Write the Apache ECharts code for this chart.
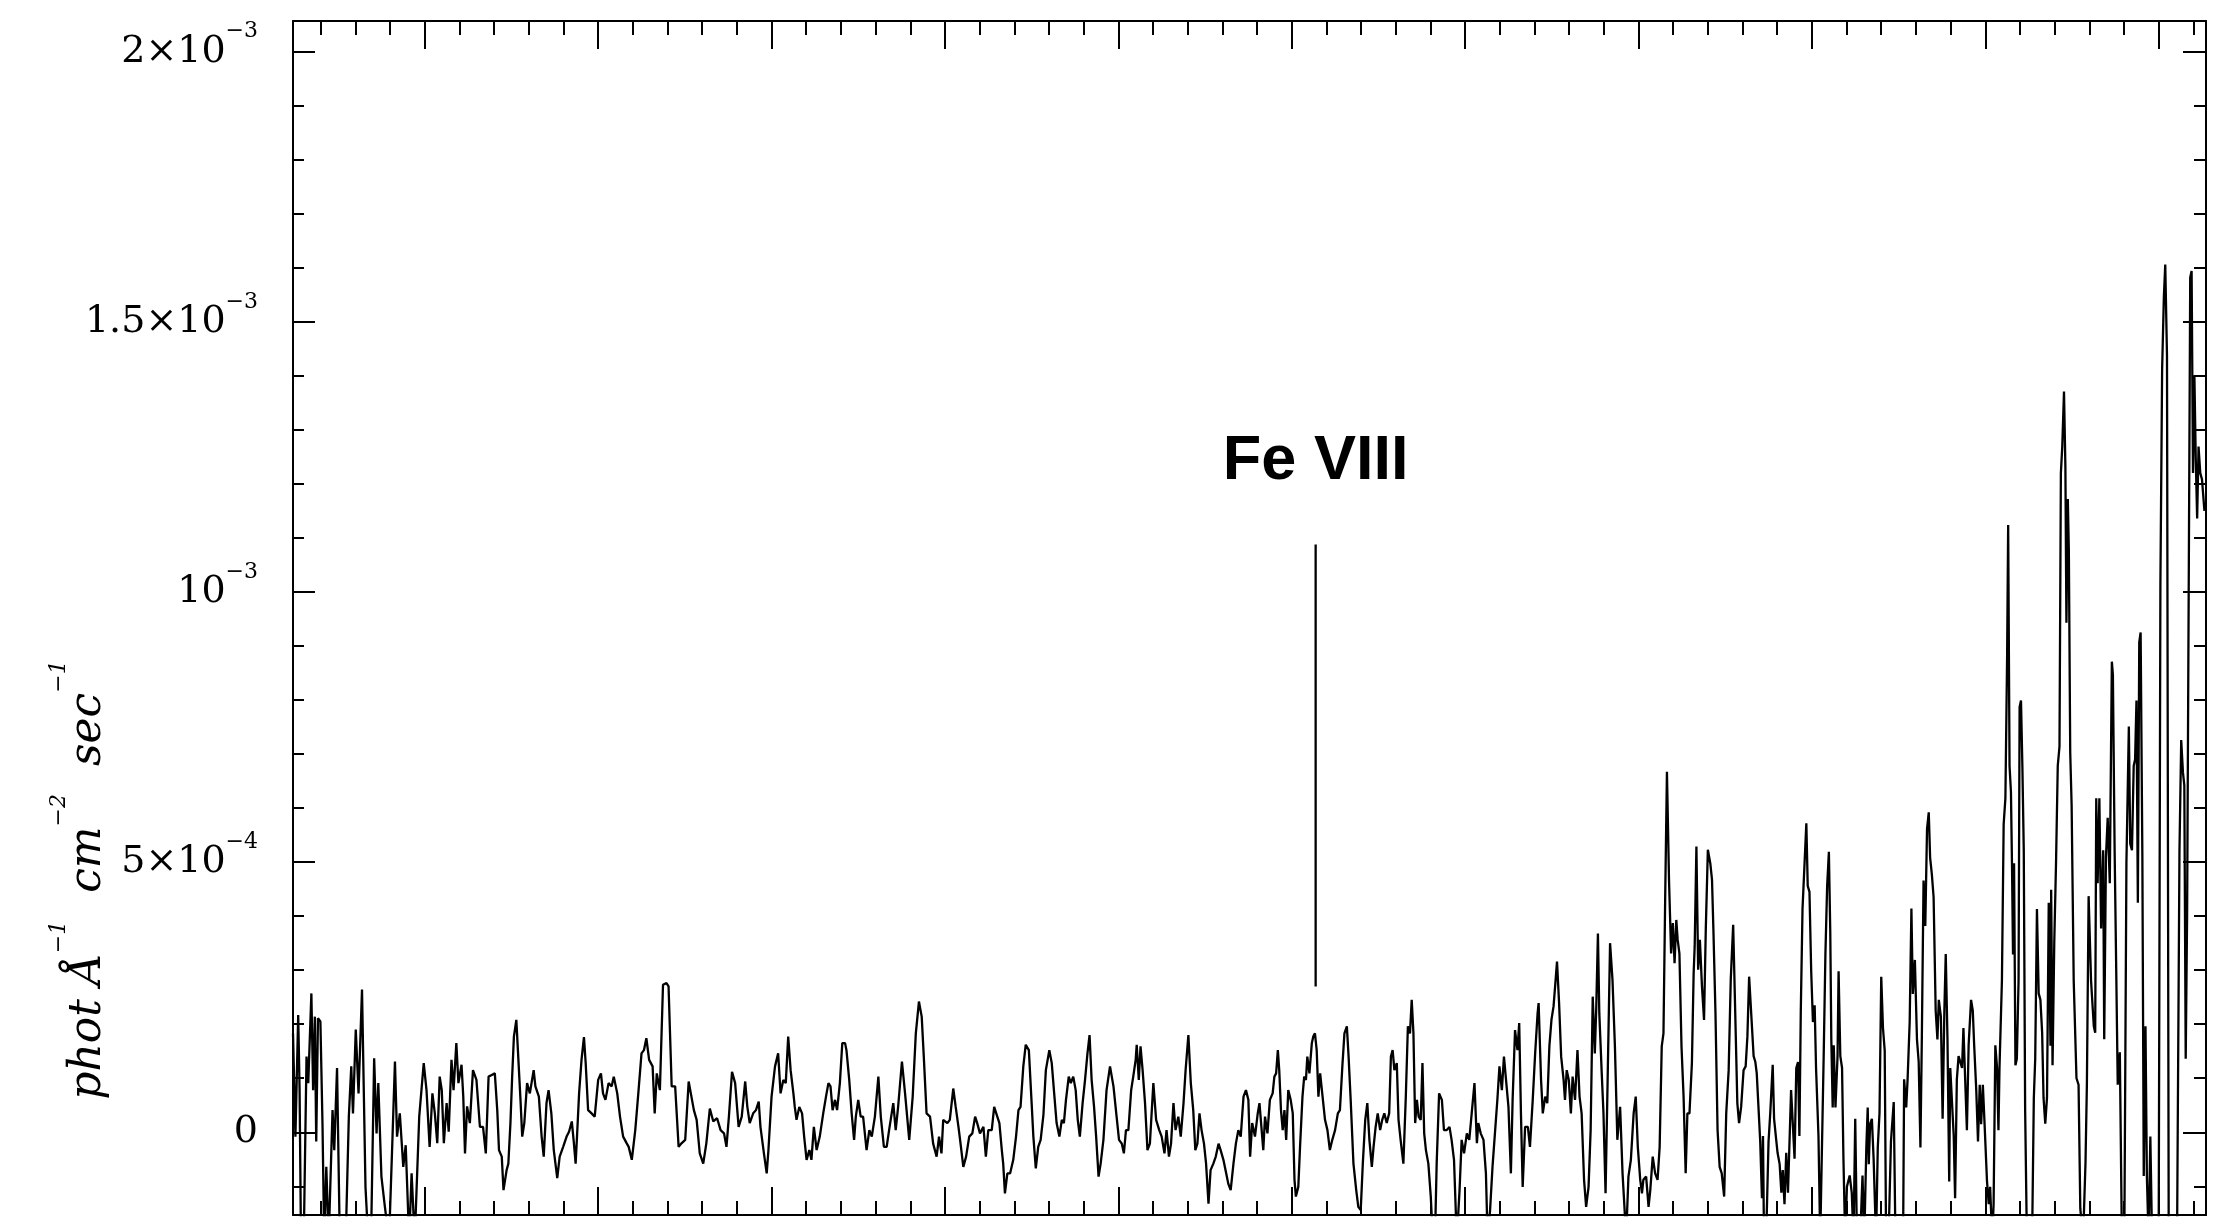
<!DOCTYPE html>
<html>
<head>
<meta charset="utf-8">
<script src="https://cdn.jsdelivr.net/npm/echarts@6/dist/echarts.min.js"></script>
<style>
  html, body { margin: 0; padding: 0; background: #ffffff; }
  #chart { width: 2229px; height: 1220px; }
</style>
</head>
<body>
<div id="chart"></div>
<script>
// Wavelength of each spectrum sample (Å)
const wave = [
  101.20,101.27,101.35,101.39,101.43,101.51,101.59,101.64,101.73,101.78,
  101.83,101.87,101.92,101.99,102.05,102.10,102.16,102.23,102.34,102.39,
  102.47,102.55,102.72,102.81,102.88,102.93,103.01,103.09,103.19,103.29,
  103.37,103.45,103.54,103.61,103.66,103.75,103.85,103.97,104.07,104.14,
  104.20,104.28,104.38,104.45,104.55,104.62,104.71,104.84,104.97,105.05,
  105.14,105.22,105.29,105.36,105.43,105.49,105.55,105.63,105.69,105.77,
  105.83,105.91,105.97,106.06,106.11,106.16,106.22,106.30,106.39,106.49,
  106.59,106.68,106.76,106.84,106.93,107.02,107.09,107.14,107.22,107.27,
  107.36,107.41,107.47,107.52,107.57,107.64,107.70,107.76,107.81,107.87,
  107.95,108.03,108.14,108.19,108.29,108.37,108.43,108.51,108.57,108.65,
  108.72,108.82,108.89,108.99,109.09,109.16,109.24,109.30,109.35,109.39,
  109.45,109.52,109.59,109.64,109.71,109.81,109.90,110.00,110.08,110.14,
  110.21,110.30,110.39,110.45,110.55,110.63,110.72,110.82,110.88,110.97,
  111.07,111.15,111.25,111.32,111.39,111.47,111.57,111.63,111.69,111.78,
  111.87,111.97,112.03,112.12,112.22,112.32,112.41,112.51,112.61,112.66,
  112.76,112.84,112.93,113.03,113.12,113.22,113.32,113.43,113.53,113.63,
  113.70,113.77,113.86,113.95,114.05,114.14,114.24,114.30,114.37,114.47,
  114.55,114.63,114.68,114.78,114.86,114.91,115.00,115.10,115.19,
  115.26,115.34,115.41,115.48,115.55,115.63,115.67,115.72,115.80,115.88,
  115.94,116.01,116.09,116.15,116.22,116.30,116.39,116.49,116.57,116.64,
  116.70,116.76,116.83,116.89,116.97,117.04,117.12,117.16,117.24,117.31,
  117.38,117.43,117.50,117.57,117.64,117.74,117.82,117.89,117.98,118.08,
  118.15,118.24,118.32,118.39,118.51,118.58,118.65,118.76,118.85,118.91,
  118.97,119.07,119.16,119.25,119.33,119.39,119.47,119.57,119.66,119.76,
  119.83,119.90,119.95,120.07,120.14,120.24,120.31,120.39,120.45,120.53,
  120.61,120.70,120.79,120.87,120.93,121.01,121.11,121.18,121.25,121.35,
  121.42,121.51,121.57,121.64,121.68,121.73,121.80,121.88,121.97,122.05,
  122.12,122.18,122.26,122.33,122.42,122.50,122.55,122.62,122.69,122.76,
  122.84,122.91,123.01,123.08,123.15,123.22,123.30,123.37,123.43,123.49,
  123.57,123.63,123.70,123.77,123.83,123.89,123.97,124.04,124.11,124.17,
  124.23,124.30,124.36,124.43,124.49,124.57,124.66,124.76,124.86,124.95,
  125.02,125.10,125.16,125.22,125.29,125.37,125.43,125.50,125.53,125.59,
  125.64,125.70,125.77,125.84,125.91,126.01,126.09,126.18,126.25,126.33,
  126.39,126.46,126.52,126.59,126.65,126.73,126.80,126.88,126.94,127.02,
  127.09,127.16,127.22,127.28,127.34,127.40,127.47,127.53,127.60,127.66,
  127.74,127.81,127.89,127.95,128.03,128.11,128.17,128.24,128.32,128.39,
  128.46,128.53,128.61,128.68,128.75,128.80,128.86,128.94,129.02,129.07,
  129.18,129.23,129.30,129.37,129.45,129.50,129.55,129.60,129.64,129.69,
  129.74,129.79,129.84,129.90,129.97,130.03,130.08,130.12,130.19,130.24,
  130.31,130.36,130.41,130.45,130.51,130.58,130.62,130.67,130.72,130.77,
  130.82,130.88,130.96,131.03,131.10,131.17,131.25,131.33,131.39,131.46,
  131.52,131.59,131.64,131.70,131.78,131.86,131.92,131.99,132.05,132.12,
  132.18,132.24,132.31,132.36,132.42,132.48,132.55,132.61,132.67,132.74,
  132.81,132.86,132.91,132.96,133.03,133.08,133.14,133.22,133.29,133.35,
  133.41,133.46,133.51,133.56,133.61,133.66,133.72,133.77,133.82,133.87,
  133.94,134.01,134.07,134.13,134.18,134.25,134.33,134.39,134.47,134.55,
  134.61,134.68,134.76,134.84,134.90,134.97,135.05,135.12,135.19,135.27,
  135.34,135.38,135.45,135.53,135.60,135.65,135.72,135.79,135.86,135.93,
  135.99,136.06,136.12,136.18,136.25,136.32,136.37,136.44,136.51,136.56,
  136.61,136.66,136.73,136.81,136.87,136.95,137.02,137.09,137.12,137.19,
  137.24,137.31,137.37,137.43,137.49,137.55,137.61,137.65,137.71,137.77,
  137.84,137.88,137.93,137.99,138.05,138.10,138.17,138.24,138.30,138.36,
  138.43,138.49,138.56,138.62,138.68,138.74,138.78,138.83,138.87,138.94,
  138.99,139.05,139.11,139.18,139.25,139.32,139.39,139.47,139.54,139.60,
  139.64,139.71,139.78,139.86,139.92,139.98,140.05,140.10,140.14,140.22,
  140.29,140.34,140.41,140.48,140.55,140.61,140.67,140.72,140.77,140.82,
  140.88,140.94,140.99,141.04,141.09,141.13,141.18,141.24,141.30,141.36,
  141.41,141.47,141.54,141.59,141.62,141.67,141.72,141.77,141.83,141.89,
  141.94,142.00,142.07,142.12,142.16,142.22,142.28,142.34,142.40,142.47,
  142.53,142.60,142.66,142.73,142.79,142.85,142.90,142.96,143.03,143.09,
  143.14,143.19,
  143.32,143.37,143.41,143.46,143.51,143.56,143.59,143.62,143.68,143.75,
  143.80,143.87,143.91,143.96,144.01,144.07,144.12,144.16,144.21,144.26,
  144.31,144.36,144.40,144.45,144.50,144.55,144.60,144.64,144.68,144.73,
  144.78,144.84,144.88,144.93,144.98,145.03,145.08,145.12,145.19,145.24,
  145.29,145.34,145.39,145.44,145.49,145.53,145.56,145.60,145.63,145.68,
  145.74,145.77,145.82,145.87,145.91,145.96,146.01,146.09,146.15,146.20,
  146.25,146.30,146.39,146.46,146.51,146.57,146.61,146.64,146.68,146.73,
  146.78,146.85,146.90,146.95,147.00,147.05,147.10,147.14,147.21,147.28,
  147.36,147.41,147.50,147.63,147.66,147.72,147.76,147.82,147.87,147.91,
  147.97,148.03,148.08,148.13,148.17,148.22,148.27,148.32,148.37,148.41,
  148.46,148.51,148.57,148.62,148.66,148.72,148.77,148.82,148.86,148.91,
  148.96,148.99,149.04,149.09,149.13,149.18,149.23,149.28,149.33,149.37,
  149.42,149.47,149.52,149.59,149.64,149.68,149.74,149.79,149.84,149.88,
  149.93,149.98,150.05,150.10,150.14,150.20,150.24,150.29,150.34,150.38,
  150.41,
  150.48,150.53,150.58,150.63,150.66,150.70,150.74,150.77,150.80,150.83,
  150.87,150.91,150.96,150.99,151.03,151.07,151.11,151.15,151.20,151.35,
  151.40,151.44,151.49,151.54,151.59,151.64,151.68,151.73,151.78,151.83,
  151.88,151.90,151.94,151.99,152.04,152.09,152.14,152.18,152.22,152.27,
  152.31,152.34,152.38,152.41,152.45,152.49,152.55,152.63,152.69,152.74,
  152.82,152.89,152.93,152.98,153.05,153.13,153.17,153.20,153.24,153.29,
  153.34,153.40,153.43,153.48,153.53,153.59,153.65,153.68,153.73,153.78,
  153.82,153.88,153.94,154.01,154.07,154.14,154.18,154.23,154.28,154.32,
  154.36,154.40,154.44,154.48,154.53,154.57,154.62,154.66,154.71,154.76,
  154.81,154.90,155.00,155.05,155.10,155.15,155.19,155.24,155.29,155.36,
  155.53,155.60,155.65,155.70,155.74,155.78,155.82,155.87,155.91,155.95,
  155.99,156.03,156.07,156.11,156.15,156.20,156.25,156.32
];

// Flux of each sample, in units of 1e-5 phot Å^-1 cm^-2 s^-1
const flux = [
  18.3,-0.8,21.7,7.8,-20,-20,14.0,9.1,25.7,7.8,
  21.4,-1.7,21.1,20.5,1.7,-20,-6.4,-20,4.1,-3.3,
  11.9,-20,-20,2.9,12.2,3.5,19.0,7.2,26.4,-10.1,
  -20,-20,13.7,-0.2,9.1,-8.2,-13.8,-20,-0.8,13.1,
  -0.8,3.5,-6.4,-2.4,-20,-7.6,-20,2.9,12.8,7.8,
  -2.7,7.2,3.5,-2.0,10.3,7.8,-2.0,5.4,0.1,13.4,
  7.8,16.5,9.1,12.5,6.6,-3.9,4.8,1.7,11.5,9.7,
  1.0,1.0,-3.9,10.3,10.6,10.9,4.1,-3.3,-4.5,-10.7,
  -7.0,-5.8,1.7,10.3,17.7,20.8,13.4,6.0,-0.8,1.7,
  9.1,7.2,11.5,8.5,6.6,-0.8,-4.5,5.4,7.8,3.5,
  -3.3,-8.5,-4.5,-2.7,-0.8,0.1,2.0,-2.0,-5.8,-0.8,
  7.2,13.4,17.6,12.8,4.1,3.5,2.9,9.7,10.9,7.2,
  6.0,9.1,8.5,10.3,7.2,2.9,-0.8,-2.0,-2.7,-5.1,
  0.4,6.6,14.6,15.2,17.4,13.4,12.2,3.5,10.9,7.8,
  27.3,27.6,27.0,8.5,8.5,-2.7,-2.0,-1.4,9.4,9.7,
  4.1,2.3,-3.9,-5.8,-2.0,4.4,2.0,2.6,0.4,-0.2,
  -2.7,2.9,11.2,9.1,1.0,2.9,9.4,4.8,1.7,3.5,
  4.1,5.7,1.0,-3.9,-7.6,-3.3,6.6,12.2,14.6,
  7.2,9.7,9.1,17.7,11.5,7.2,4.7,2.3,4.7,3.5,
  -0.8,-5.1,-3.3,-5.1,1.0,-3.3,-0.8,3.5,6.6,9.1,
  8.5,4.1,6.0,4.1,9.1,16.5,16.5,15.2,9.7,3.5,
  -1.4,2.9,6.0,2.9,2.9,-3.3,0.4,-0.8,2.9,10.3,
  2.9,-2.7,-2.7,0.4,5.4,0.4,4.7,13.1,7.2,2.9,
  -1.4,6.6,18.3,24.2,21.4,14.0,3.5,2.9,-2.1,-4.5,
  -0.8,-3.9,2.3,1.7,2.3,8.1,4.7,1.0,-2.1,-6.4,
  -4.5,-0.8,-0.2,2.9,1.7,-0.2,1.0,-4.5,0.4,0.4,
  4.7,2.9,1.7,-3.3,-5.8,-11.3,-7.6,-7.6,-5.1,-0.8,
  4.1,4.7,12.2,16.2,15.2,5.4,-0.8,-6.7,-2.7,-1.4,
  3.2,11.5,15.2,12.8,7.2,1.7,-0.8,2.3,1.7,6.0,
  10.3,9.1,10.3,7.8,2.3,-0.8,5.4,9.7,14.6,18.0,
  9.7,4.7,-0.8,-8.2,-5.8,-1.4,7.8,12.2,8.5,2.9,
  -1.4,-2.1,-3.9,0.4,0.4,7.8,10.3,13.4,16.2,9.7,
  15.9,11.5,5.4,-3.3,-2.1,9.1,2.3,0.4,-0.8,-3.9,
  0.4,-4.5,-2.1,5.4,0.4,2.9,-0.8,5.4,11.5,18.0,
  9.1,4.1,-3.3,-2.1,3.5,0.4,-2.1,-5.8,-13.2,-7.0,
  -5.8,-4.5,-2.1,-3.3,-5.1,-7.6,-9.5,-10.7,-5.8,-2.1,
  0.4,-0.8,6.6,7.8,6.0,-4.5,1.7,-0.8,3.5,5.4,
  -3.3,2.9,-0.2,6.0,7.2,10.3,10.9,15.2,11.5,4.1,
  0.4,4.1,-1.4,7.8,6.0,3.5,-8.8,-11.9,-10.1,-2.7,
  6.6,10.3,9.7,14.0,10.9,16.5,17.7,18.3,15.2,6.6,
  10.9,7.2,2.3,0.4,-3.3,-1.4,0.4,3.5,4.1,12.2,
  18.3,19.6,14.0,6.0,-5.8,-10.7,-13.8,-14.4,-5.8,2.3,
  5.4,-1.4,-6.4,-2.7,1.0,3.5,0.4,2.3,3.5,1.7,
  3.5,14.0,15.2,11.5,12.8,2.3,-1.4,-5.8,6.6,19.6,
  18.3,24.5,18.3,1.7,6.0,2.9,2.3,12.8,-0.2,-3.3,
  -5.8,-11.9,-20,-20,-5.8,7.2,6.0,0.4,0.4,1.0,
  -1.4,-5.1,-20,-10.7,-1.4,-3.9,-0.2,-1.4,3.5,9.1,
  -2.0,1.7,-0.2,-1.4,-7.6,-20,-14.4,-6.4,-0.2,6.0,
  12.2,7.8,14.0,9.7,4.7,-7.6,6.0,18.9,15.2,20.2,
  3.5,-10.1,1.0,1.0,-2.7,6.0,14.6,22.0,23.9,9.7,
  3.5,6.6,5.4,15.9,20.8,23.3,28.2,31.6,23.9,14.0,
  9.7,6.0,11.5,9.7,3.5,10.3,6.0,15.2,6.6,3.5,
  -8.8,-13.8,-10.1,0.4,25.1,14.6,22.6,36.8,22.0,10.9,
  3.5,-11.3,9.7,35.0,28.2,15.9,-1.4,4.7,-7.6,-14.4,
  -20,-8.2,-5.1,3.5,6.6,-2.7,-8.8,-11.3,-8.8,-8.2,
  -13.8,-10.7,-4.5,-7.6,-8.8,-2.7,15.9,18.3,43.6,66.7,
  46.7,33.1,38.7,31.3,39.3,35.6,33.1,15.9,6.6,-7.6,
  3.5,3.5,12.8,29.4,34.4,52.9,30.1,35.6,27.0,20.8,
  37.5,52.3,49.8,46.7,37.5,22.0,0.4,-6.4,-7.6,-11.9,
  3.5,11.5,28.2,38.4,22.0,5.4,1.7,4.7,11.5,12.2,
  17.7,28.8,
  14.1,13.0,10.9,4.6,-1.7,-12.2,-0.7,-20,-20,-1.7,
  3.6,12.5,2.5,-0.7,-3.8,-5.9,-11.2,-7.0,-13.3,-3.8,
  -11.2,-0.7,7.8,1.5,-4.9,11.9,13.0,-0.7,22.5,41.4,
  41.4,57.2,45.6,44.5,29.8,20.4,23.5,11.9,-0.7,-20,
  -20,14.1,33.0,45.6,51.9,37.2,17.2,4.6,16.1,4.6,
  14.1,29.8,14.1,11.9,-4.9,-20,-10.1,-8.0,-11.2,-20,
  2.5,-20,-20,-8.0,-20,-2.8,4.6,-5.9,1.5,2.5,
  -4.9,-20,-2.8,3.6,28.8,19.3,15.1,-20,-20,-1.7,
  5.6,-20,-20,-20,9.8,4.6,9.8,20.4,41.4,25.6,
  31.9,17.2,13.0,-2.8,17.2,46.6,38.2,56.1,59.2,50.8,
  47.7,43.5,22.5,17.2,24.5,21.4,2.5,22.5,33.0,17.2,
  -9.1,11.9,11.9,-0.7,-12.2,9.8,14.1,14.1,11.9,19.3,
  9.8,0.4,16.1,24.5,22.5,16.1,7.8,-1.7,8.8,1.5,
  8.8,1.5,-9.1,-13.3,-10.1,-20,-13.3,16.1,11.9,0.4,
  11.9,
  28.1,57.0,61.8,88.3,112.4,67.8,63.0,49.8,32.9,49.8,
  12.4,13.6,28.1,78.7,79.9,67.8,52.2,4.0,-20,-20,
  6.4,13.6,41.3,25.7,24.5,18.4,6.4,1.6,6.4,42.5,
  16.0,44.9,12.4,35.3,49.8,67.8,71.4,122.0,126.9,137.1,
  123.2,94.3,117.2,107.6,70.2,60.6,28.1,10.0,8.8,-14.1,
  -20,-5.7,8.8,43.7,28.1,19.6,18.4,61.8,46.1,61.8,
  37.7,52.2,17.2,51.0,58.2,46.1,87.1,84.7,52.2,28.1,
  8.8,14.8,-20,-20,49.8,75.1,53.4,52.2,67.8,69.0,
  79.9,42.5,90.7,92.5,51.0,-8.1,19.6,-8.1,-20,-0.8,
  -20,-20,-20,101.6,141.3,154.6,160.6,143.7,-20,-20,
  -20,52.2,72.6,66.6,64.2,13.6,40.1,105.2,158.2,159.4,
  122.0,140.1,124.5,113.6,126.9,122.0,120.8,115.0
];
const FLUX_UNIT = 1e-5;

// Axis ranges and tick positions
const waveRange = [101.2, 156.365];
const fluxRange = [-1.531e-4, 2.0567e-3];
const waveMajorTicks = [105, 110, 115, 120, 125, 130, 135, 140, 145, 150, 155];
const waveMinorTicks = [102, 103, 104, 106, 107, 108, 109, 111, 112, 113, 114,
  116, 117, 118, 119, 121, 122, 123, 124, 126, 127, 128, 129, 131, 132, 133, 134,
  136, 137, 138, 139, 141, 142, 143, 144, 146, 147, 148, 149, 151, 152, 153, 154, 156];
const fluxMajorTicks = [0, 0.0005, 0.001, 0.0015, 0.002];
const fluxTickMantissa = ['0', '5×10', '10', '1.5×10', '2×10'];
const fluxTickExponent = ['', '−4', '−3', '−3', '−3'];
const fluxMinorTicks = [-0.0001, 0.0001, 0.0002, 0.0003, 0.0004, 0.0006, 0.0007, 0.0008,
  0.0009, 0.0011, 0.0012, 0.0013, 0.0014, 0.0016, 0.0017, 0.0018, 0.0019];

// Line identification marker
const lineName = 'Fe VIII';
const lineWave = 130.69;
const lineMarkFlux = [26.96, 108.76];
const lineLabelFlux = 124.2;

const INK = '#000000';
const SERIF = '"DejaVu Serif", "Liberation Serif", serif';

function waveAxis(position, ticks, length, showLine) {
  return {
    type: 'value', position: position, min: waveRange[0], max: waveRange[1],
    axisLine: { show: showLine, onZero: false, lineStyle: { color: INK, width: 2 } },
    axisTick: { show: true, inside: true, length: length, customValues: ticks,
      lineStyle: { color: INK, width: 2 } },
    axisLabel: { show: false },
    splitLine: { show: false }
  };
}

function fluxAxis(position, ticks, length, showLine, withLabels) {
  const axis = {
    type: 'value', position: position, min: fluxRange[0], max: fluxRange[1],
    axisLine: { show: showLine, onZero: false, lineStyle: { color: INK, width: 2 } },
    axisTick: { show: true, inside: true, length: length, customValues: ticks,
      lineStyle: { color: INK, width: 2 } },
    axisLabel: { show: false },
    splitLine: { show: false }
  };
  if (withLabels) {
    axis.axisLabel = {
      show: true,
      customValues: fluxMajorTicks,
      margin: 35,
      formatter: function (v) {
        let idx = 0, best = Infinity;
        fluxMajorTicks.forEach(function (t, i) {
          const d = Math.abs(t - v);
          if (d < best) { best = d; idx = i; }
        });
        const exp = fluxTickExponent[idx];
        return '{m|' + fluxTickMantissa[idx] + '}' + (exp ? '{s|' + exp + '}' : '');
      },
      rich: {
        m: { fontFamily: SERIF, fontSize: 38, lineHeight: 62, color: INK },
        s: { fontFamily: SERIF, fontSize: 22, lineHeight: 22, color: INK, verticalAlign: 'top' }
      }
    };
  }
  return axis;
}

const chart = echarts.init(document.getElementById('chart'), null, { renderer: 'canvas' });

chart.setOption({
  animation: false,
  backgroundColor: '#ffffff',
  grid: { left: 293, right: 23, top: 21, bottom: 5, containLabel: false },
  xAxis: [
    waveAxis('bottom', waveMajorTicks, 28, true),
    waveAxis('bottom', waveMinorTicks, 14, false),
    waveAxis('top', waveMajorTicks, 28, true),
    waveAxis('top', waveMinorTicks, 14, false)
  ],
  yAxis: [
    fluxAxis('left', fluxMajorTicks, 22, true, true),
    fluxAxis('left', fluxMinorTicks, 11, false, false),
    fluxAxis('right', fluxMajorTicks, 23, true, false),
    fluxAxis('right', fluxMinorTicks, 12, false, false)
  ],
  graphic: [{
    type: 'text',
    x: 89, y: 880,
    rotation: Math.PI / 2,
    style: {
      text: '{m|phot Å}{s|−1}{m|  cm}{s|−2}{m|  sec}{s|−1}',
      align: 'center', verticalAlign: 'middle',
      textAlign: 'center', textVerticalAlign: 'middle',
      rich: {
        m: { fontFamily: SERIF, fontStyle: 'italic', fontSize: 44, lineHeight: 82, fill: INK },
        s: { fontFamily: SERIF, fontStyle: 'italic', fontSize: 22, lineHeight: 22, fill: INK, verticalAlign: 'top' }
      }
    }
  }],
  series: [
    {
      type: 'line',
      xAxisIndex: 0, yAxisIndex: 0,
      data: wave.map(function (w, i) { return [w, flux[i] * FLUX_UNIT]; }),
      showSymbol: false, symbol: 'none',
      lineStyle: { color: INK, width: 2.3 },
      clip: true, silent: true
    },
    {
      type: 'line',
      xAxisIndex: 0, yAxisIndex: 0,
      data: lineMarkFlux.map(function (f) { return [lineWave, f * FLUX_UNIT]; }),
      showSymbol: false, symbol: 'none',
      lineStyle: { color: INK, width: 2.3 },
      silent: true
    },
    {
      type: 'scatter',
      xAxisIndex: 0, yAxisIndex: 0,
      data: [[lineWave, lineLabelFlux * FLUX_UNIT]],
      symbolSize: 1,
      itemStyle: { color: 'rgba(0,0,0,0)', opacity: 1 },
      label: {
        show: true, position: 'inside',
        formatter: lineName,
        fontFamily: '"Liberation Sans", Arial, sans-serif',
        fontWeight: 'bold', fontSize: 63, color: INK, opacity: 1,
        textBorderWidth: 0
      },
      silent: true
    }
  ]
});
</script>
</body>
</html>
